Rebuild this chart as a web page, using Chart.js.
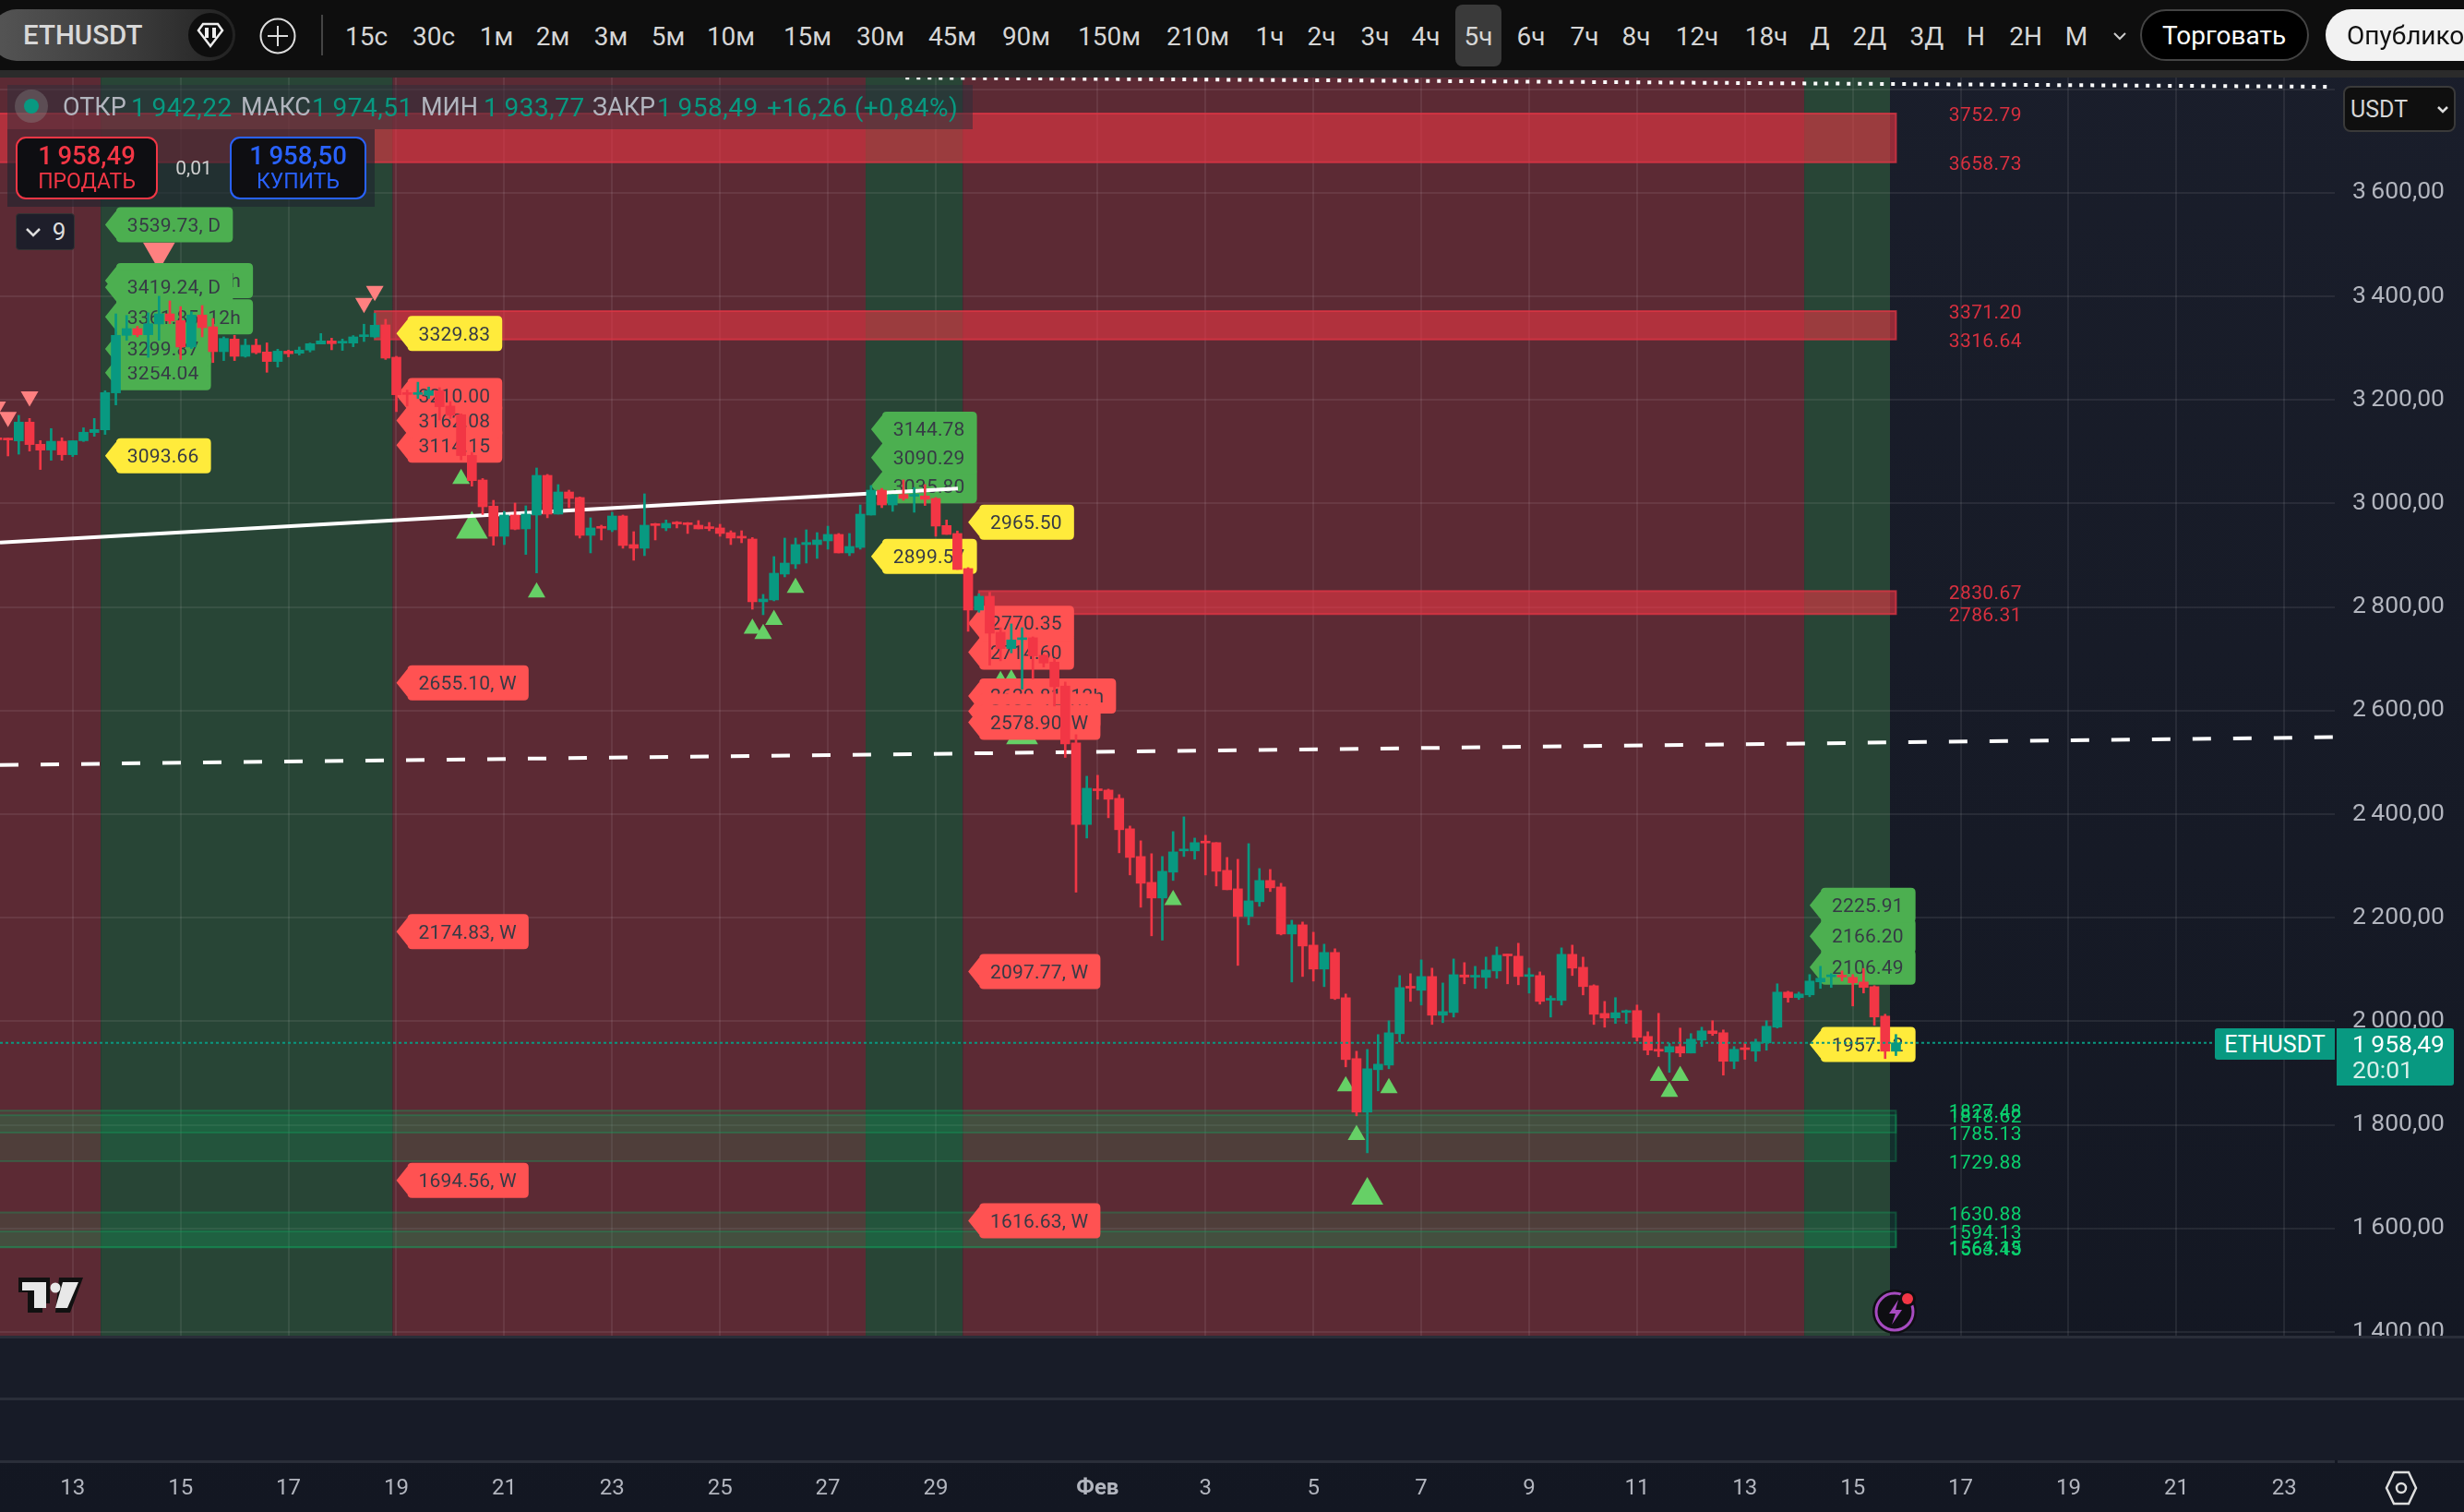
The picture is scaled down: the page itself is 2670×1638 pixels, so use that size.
<!DOCTYPE html>
<html lang="ru">
<head>
<meta charset="utf-8">
<title>ETHUSDT</title>
<script src="https://cdn.jsdelivr.net/npm/chart.js@4"></script>
<style>
  html,body{margin:0;padding:0;width:2670px;height:1638px;overflow:hidden;background:linear-gradient(#1a1e2b,#131722);font-family:Roboto,"Liberation Sans",sans-serif;}
  #chart{position:absolute;left:0;top:0;}
  .abs{position:absolute;white-space:nowrap;box-sizing:border-box;}
  .c{transform:translate(-50%,-50%);}
  .l{transform:translateY(-50%);}
</style>
</head>
<body>
<canvas id="chart" width="2670" height="1638"></canvas>
<div id="ui"></div>
<script>
// candles are 5h, 5 per day, index 0 is 13 Jan
const firstCandle = -7;
const opens = [
  3125.5,3125.5,3120.7,3157,3114.2,3103,3120,3094,3121,3136.8,
  3142,3213.4,3324.5,3337.5,3325.7,3346.5,3366,3353,3302,3363.7,
  3341,3293,3317.4,3284,3305.5,3292.4,3274,3294,3290,3296,
  3307.8,3313.8,3309.6,3309.6,3322,3321.5,3344.7,3282.3,3212.8,3210.4,
  3208.6,3217.6,3187.9,3171.2,3092.7,3045.2,2994.7,2936.5,2977.5,2950.8,
  2977.5,3054.1,2979.3,3022,3011.4,2938.3,2955,2949,2975.7,2920.5,
  2913.4,2960.3,2952.6,2963.8,2962,2957.9,2955,2952.6,2943.6,2936.5,
  2931.2,2810,2813.6,2863.5,2883,2920.5,2920.5,2927.6,2940.1,2904.4,
  2915,2977.5,3025.6,2997,3017.3,3013.8,3014.4,3009.6,2957.3,2941.9,
  2874.2,2794,2820.7,2751.2,2719.8,2737,2740.5,2706.7,2693.6,2647.3,
  2537.4,2380,2448.9,2446.5,2430.5,2371.7,2318.2,2268.3,2238,2287.9,
  2329,2329,2346.7,2345,2291.5,2255.8,2202.4,2230.9,2271.9,2259.4,
  2168.5,2186.3,2147.1,2100.8,2132.9,2045.5,1928,1824.6,1906.5,1915.4,
  1976,2067,2059.8,2086.5,2011.7,2017,2089.5,2085.3,2084.7,2097.2,
  2129.3,2125.7,2086.5,2088.3,2040.8,2040.2,2129.3,2104.3,2068.7,2015.2,
  2006.5,2017,2020.7,1970.8,1945.9,1940.5,1951.2,1938.7,1963.7,1981.5,
  1977.9,1922.7,1947.6,1942.3,1958.3,1988.6,2056.3,2045.7,2051,2076,
  2086,2088.4,2084.9,2075.9,2067,2010,1942.22];
const highs = [
  3126,3126,3170,3164,3121.3,3144.5,3126.7,3121,3146,3164,
  3217.6,3366,3363,3342,3368,3400,3391,3380,3370,3382,
  3357,3321.5,3324.5,3317.4,3317.4,3310,3297.7,3296,3302,3309.6,
  3328,3319,3317.4,3324,3346,3367,3355.4,3284,3218.7,3234,
  3224.7,3223.5,3196.8,3173,3098.7,3048,3006,2984.6,3000.7,2995.3,
  3068.4,3056,3036.3,3025.6,3012.5,2972.2,2957.9,2982.8,2977.5,2945.4,
  3018.5,2961.5,2968,2965,2963.2,2966.8,2963.2,2959.7,2947.2,2947.2,
  2934,2824.3,2897.3,2933,2933,2949,2943.6,2956,2941.9,2941.9,
  2997,3034.5,3029,3016.7,3045.3,3030.4,3036.3,3011.4,2968,2946.7,
  2876,2825.5,2828.4,2760,2767.3,2760,2742.3,2708,2700.7,2655,
  2553.4,2473.2,2475,2448.3,2437.6,2377,2348.5,2323.6,2318.2,2366.3,
  2394.8,2353.8,2359.2,2345,2316.4,2312.8,2343.1,2295,2293.2,2266.5,
  2195.2,2191.7,2172,2148.9,2140,2052.7,1942.2,1945.7,1974.3,2001,
  2088.3,2091.9,2118.6,2102.6,2074,2120.4,2113.3,2106.1,2124,2143.5,
  2129.3,2150.7,2102.6,2095.4,2049.1,2141.8,2147.1,2123.9,2070.5,2038.4,
  2045.7,2021.9,2031.4,1979.7,2015.4,1957.2,1986.9,1976.2,1988.6,2001.1,
  1983.3,1951.2,1958.3,1965.5,2001.1,2072.4,2058.1,2056.3,2090.2,2106.2,
  2092,2097.3,2090.2,2102,2068.8,2013.6,1974.51];
const lows = [
  3105,3091.6,3095,3101,3065.5,3083.3,3083.3,3090.4,3119.5,3129.6,
  3133.2,3190.2,3315,3321.5,3282,3315,3347,3278,3299,3321.5,
  3272,3275.8,3275.8,3282.3,3288.8,3253.2,3263.3,3283,3286.5,3292.4,
  3307.8,3296.6,3295.4,3302.5,3312.6,3319.7,3278,3177.2,3187.9,3202.7,
  3202.7,3161.1,3164,3084,3033.3,2978.7,2919.3,2920.5,2949,2901.5,
  2865.8,2972.2,2979.3,2991.8,2933,2904.4,2929.4,2945.4,2913.4,2890.2,
  2899.1,2929.4,2947.2,2952.6,2941.9,2950.8,2947.2,2936.5,2920.5,2924,
  2795.7,2785,2811.8,2858.1,2874.2,2884.8,2893.8,2911.6,2904.4,2899.1,
  2911.6,2977.5,2991.8,2984.7,3006,2982.9,2996,2936.6,2940.1,2872.4,
  2753,2789.8,2687.7,2696,2711.4,2641.3,2661,2684.1,2608.7,2509.5,
  2249.3,2353.8,2428.7,2393,2325.3,2282.6,2220.2,2165,2156.6,2271.9,
  2318.2,2312.9,2282.5,2261.2,2254,2107.9,2186.3,2222,2250.5,2166.7,
  2075.8,2086.5,2077.6,2066.9,2042,1911.9,1817.4,1746,1865.6,1908.3,
  1960,2038.4,2031.3,1993.9,1997.4,2008.1,2072.3,2063.4,2063.4,2083,
  2072.3,2070.5,2054.4,2033.1,2008.1,2031.3,2088.3,2050.9,1993.9,1988.5,
  1995.8,1995.8,1961.9,1935.2,1931.6,1901.3,1931.6,1938.7,1951.2,1972.6,
  1896,1908.4,1926.3,1922.7,1944.1,1986.9,2036.8,2042.1,2047.4,2063.5,
  2065.3,2077.7,2029.6,2054.6,1992.2,1928,1933.77];
const closes = [
  3123,3122.5,3157,3113.6,3102.9,3120,3094,3121,3137.4,3142.7,
  3214,3324.5,3337.5,3325.7,3347,3366,3352.4,3302,3363.7,3339.3,
  3293,3318.5,3284,3305.5,3291,3274,3294,3289,3296,3308.4,
  3313.8,3308.4,3312.6,3321.5,3325,3344,3280.5,3209.8,3210.4,3212.8,
  3217.6,3186.7,3170,3092.3,3044,2993.5,2936.5,2977.5,2950.2,2979.3,
  3054.1,2979.3,3022,3009.6,2938.3,2952.6,2952,2975.7,2918.7,2913.4,
  2957.9,2957.3,2961.5,2960.3,2959,2950.8,2951.4,2941.9,2933,2933,
  2810,2815.3,2865.2,2884.8,2920.5,2924.6,2929.4,2940.1,2904.4,2916.9,
  2979.3,3025.6,2997,3016.7,3009.6,3016.7,3007.8,2956.2,2940.1,2872.4,
  2794,2820.7,2749.4,2719.8,2736.4,2740,2705.5,2691.8,2646,2535.6,
  2380,2450,2445.3,2428.7,2369.9,2316.4,2266.5,2238,2289.7,2327.1,
  2331.3,2345,2344.3,2289.7,2254,2202.4,2232.6,2271.9,2257.6,2168.5,
  2186.3,2145.3,2100.8,2132.9,2043.8,1926.1,1824.6,1908.3,1917.2,1977.8,
  2065.1,2064,2086.5,2011.7,2018.8,2090,2085.3,2087.7,2099,2127.5,
  2126.3,2086.5,2090,2038.4,2043.8,2129.3,2102.6,2067,2013.5,2006.3,
  2016.6,2020,1969,1944.1,1942.3,1951.2,1938.7,1965.5,1981.5,1976.2,
  1922.7,1945.9,1945.3,1960.1,1990.4,2056.3,2045.7,2052.8,2077.7,2083.1,
  2089,2085.5,2074.2,2065.3,2008.2,1942.2,1958.49];

const xTickIndex = [0,10,20,30,40,50,60,70,80,95,105,115,125,135,145,155,165,175,185,195,205];
const xTickLabels = ['13','15','17','19','21','23','25','27','29','Фев','3','5','7','9','11','13','15','17','19','21','23'];
const priceTicks = [1400,1600,1800,2000,2200,2400,2600,2800,3000,3200,3400,3600,3800];
const priceLabels = ['1\u2009400,00','1\u2009600,00','1\u2009800,00','2\u2009000,00','2\u2009200,00','2\u2009400,00','2\u2009600,00','2\u2009800,00','3\u2009000,00','3\u2009200,00','3\u2009400,00','3\u2009600,00',''];

// session bands, in candle index
const bandEdges = [-8,2.6,29.65,73.5,82.5,160.5,168.45];
const bandKinds = ['red','green','red','green','red','green'];

// supply / demand boxes
const zoneStart = [-8,28,84,-8,-8,-8,-8];
const zoneTop = [3752.79,3371.20,2830.67,1827.48,1818.62,1630.88,1594.13];
const zoneBottom = [3658.73,3316.64,2786.31,1729.88,1785.13,1563.43,1564.15];
const zoneKind = ['red','red','red','green','green','green','green'];
const zoneEnd = 169;

const levelIndex = 173.9;
const levelPrices = [3752.79,3658.73,3371.20,3316.64,2830.67,2786.31,1827.48,1818.62,1785.13,1729.88,1630.88,1594.13,1564.15,1563.43];
const levelTexts = ['3752.79','3658.73','3371.20','3316.64','2830.67','2786.31','1827.48','1818.62','1785.13','1729.88','1630.88','1594.13','1564.15','1563.43'];

// flags, drawn in this order
const flagIndex = [3,3,3,3,3,3,3, 30,30,30,30,30,30,30, 74,74,74,74, 83,83,83,83,83,83,83,83, 161,161,161,161];
const flagPrice = [3539.73,3432.15,3361.85,3419.24,3254.04,3299.87,3093.66,
  3329.83,3114.15,3162.08,3210.00,2655.10,2174.83,1694.56,
  3035.80,3090.29,3144.78,2899.57,
  2965.50,2714.60,2770.35,2629.81,2600.45,2578.90,2097.77,1616.63,
  2106.49,2166.20,2225.91,1957.12];
const flagText = ['3539.73, D','3432.15, 12h','3361.85, 12h','3419.24, D','3254.04','3299.87','3093.66',
  '3329.83','3114.15','3162.08','3210.00','2655.10, W','2174.83, W','1694.56, W',
  '3035.80','3090.29','3144.78','2899.57',
  '2965.50','2714.60','2770.35','2629.81, 12h','2600.45, W','2578.90, W','2097.77, W','1616.63, W',
  '2106.49','2166.20','2225.91','1957.12'];
const flagKind = ['g','g','g','g','g','g','y', 'y','r','r','r','r','r','r', 'g','g','g','y', 'y','r','r','r','r','r','r','r', 'g','g','g','y'];

// triangle markers
const markIndex = [36,37,43,63,64,65,67,86,87,88,102,118,119,120,122,147,148,149, -7,-6,-4,8,27,28];
const markPrice = [3047.6,2950,2828,2758,2748,2775,2837,2657,2660,2553,2234,1874.5,1780.6,1664,1871,1894.6,1864,1894.6, 3187,3167,3206.5,3486,3387,3410];
const markBig = [0,1,0,0,0,0,0,0,0,1,0,0,0,1,0,0,0,0, 0,0,0,1,0,0];
const markDown = [0,0,0,0,0,0,0,0,0,0,0,0,0,0,0,0,0,0, 1,1,1,1,1,1];

// drawn lines
const solidIndex = [-6.74,82.05];
const solidPrice = [2924.6,3028.7];
const dashedIndex = [-6.74,209.6];
const dashedPrice = [2495,2548.6];
const dottedIndex = [77.2,209.6];
const dottedPrice = [3822,3804.4];
const lastPrice = 1958.49;

const UP = '#089981', DOWN = '#F23645';
const candleIdx = closes.map((_, i) => firstCandle + i);
const candleColor = closes.map((c, i) => c >= opens[i] ? UP : DOWN);

const flagFill = {g:'#4caf50', y:'#ffeb3b', r:'#ff5252'};
function drawFlag(ctx, x, y, text, fill) {
  const w = ctx.measureText(text).width + 25, h = 38, t = 12, r = 5;
  const b = x + t;
  ctx.fillStyle = fill;
  ctx.beginPath();
  ctx.moveTo(x, y);
  ctx.lineTo(b, y - 15);
  ctx.lineTo(b, y - h/2 + r);
  ctx.quadraticCurveTo(b, y - h/2, b + r, y - h/2);
  ctx.lineTo(b + w - r, y - h/2);
  ctx.quadraticCurveTo(b + w, y - h/2, b + w, y - h/2 + r);
  ctx.lineTo(b + w, y + h/2 - r);
  ctx.quadraticCurveTo(b + w, y + h/2, b + w - r, y + h/2);
  ctx.lineTo(b + r, y + h/2);
  ctx.quadraticCurveTo(b, y + h/2, b, y + h/2 - r);
  ctx.lineTo(b, y + 15);
  ctx.closePath();
  ctx.fill();
  ctx.fillStyle = '#363a45';
  ctx.fillText(text, b + 12, y + 2);
}

const panelPlugin = {
  id: 'panel',
  beforeDraw(chart) {
    const {ctx, chartArea: a, scales: {x}} = chart;
    ctx.save();
    bandKinds.forEach((k, i) => {
      const x0 = Math.max(a.left, x.getPixelForValue(bandEdges[i]));
      const x1 = x.getPixelForValue(bandEdges[i + 1]);
      ctx.fillStyle = k === 'red' ? '#5c2a34' : '#284536';
      ctx.fillRect(x0, a.top, x1 - x0, a.bottom - a.top);
    });
    ctx.restore();
  },
  beforeDatasetsDraw(chart) {
    const {ctx, chartArea: a, scales: {x, y}} = chart;
    ctx.save();
    ctx.beginPath();
    ctx.rect(a.left, a.top, a.right - a.left, a.bottom - a.top);
    ctx.clip();
    zoneTop.forEach((top, i) => {
      const red = zoneKind[i] === 'red';
      const x0 = x.getPixelForValue(zoneStart[i]), x1 = x.getPixelForValue(zoneEnd);
      const y0 = y.getPixelForValue(top), y1 = y.getPixelForValue(zoneBottom[i]);
      ctx.fillStyle = red ? 'rgba(242,54,69,0.57)' : 'rgba(14,170,95,0.16)';
      ctx.strokeStyle = red ? 'rgba(226,54,69,0.75)' : 'rgba(14,170,95,0.32)';
      ctx.lineWidth = 2;
      ctx.fillRect(x0, y0, x1 - x0, y1 - y0);
      ctx.strokeRect(x0, y0, x1 - x0, y1 - y0);
    });
    ctx.restore();
  },
  afterDatasetDraw(chart, args) {
    if (chart.data.datasets[args.index].label !== 'marks') return;
    const {ctx, scales: {x, y}} = chart;
    ctx.save();
    ctx.font = '21px Roboto, "Liberation Sans", sans-serif';
    ctx.letterSpacing = '0.2px';
    ctx.textBaseline = 'middle';
    ctx.textAlign = 'left';
    flagText.forEach((t, i) => drawFlag(ctx, x.getPixelForValue(flagIndex[i]), y.getPixelForValue(flagPrice[i]) + 1, t, flagFill[flagKind[i]]));
    ctx.letterSpacing = '0.4px';
    levelTexts.forEach((t, i) => {
      ctx.fillStyle = i < 6 ? '#d8303f' : '#0ad06e';
      ctx.fillText(t, x.getPixelForValue(levelIndex), y.getPixelForValue(levelPrices[i]) + 3);
    });
    ctx.restore();
  }
};

new Chart(document.getElementById('chart'), {
  type: 'bar',
  plugins: [panelPlugin],
  data: {
    datasets: [
      {
        type: 'line', label: 'marks', order: 6, showLine: false,
        data: markIndex.map((v, i) => ({x: v, y: markPrice[i]})),
        pointStyle: 'triangle',
        pointRadius: markBig.map(b => b ? 20 : 11),
        pointRotation: markDown.map(d => d ? 180 : 0),
        pointBackgroundColor: markDown.map(d => d ? '#ff8080' : '#66d066'),
        pointBorderWidth: 0
      },
      {type: 'line', label: 'trend', order: 4, data: solidIndex.map((v, i) => ({x: v, y: solidPrice[i]})), borderColor: '#ffffff', borderWidth: 4, pointRadius: 0},
      {type: 'line', label: 'trend dashed', order: 4, data: dashedIndex.map((v, i) => ({x: v, y: dashedPrice[i]})), borderColor: '#ffffff', borderWidth: 4, borderDash: [20, 24], pointRadius: 0},
      {type: 'line', label: 'trend dotted', order: 4, data: dottedIndex.map((v, i) => ({x: v, y: dottedPrice[i]})), borderColor: '#ffffff', borderWidth: 4, borderDash: [4, 8], pointRadius: 0},
      {
        label: 'wicks', order: 3, grouped: false, barThickness: 2,
        data: candleIdx.map((v, i) => ({x: v, y: [lows[i], highs[i]]})),
        backgroundColor: candleColor
      },
      {
        label: 'bodies', order: 2, grouped: false, barThickness: 10, minBarLength: 2,
        data: candleIdx.map((v, i) => ({x: v, y: [opens[i], closes[i]]})),
        backgroundColor: candleColor
      },
      {type: 'line', label: 'last', order: 1, data: [{x: -6.74, y: lastPrice}, {x: 209.6, y: lastPrice}], borderColor: UP, borderWidth: 2, borderDash: [3, 3], pointRadius: 0}
    ]
  },
  options: {
    responsive: false,
    devicePixelRatio: 1,
    animation: false,
    events: [],
    layout: {autoPadding: false, padding: {top: 84}},
    plugins: {legend: {display: false}, tooltip: {enabled: false}},
    scales: {
      x: {
        type: 'linear',
        min: -6.74, max: 209.68, offset: false,
        afterBuildTicks: s => { s.ticks = xTickIndex.map(v => ({value: v})); },
        afterFit: s => { s.height = 191; s.paddingLeft = 0; s.paddingRight = 0; },
        grid: {color: 'rgba(255,255,255,0.075)', lineWidth: 2, drawTicks: false, offset: false},
        border: {display: false},
        ticks: {
          autoSkip: false, maxRotation: 0, padding: 152, color: '#b2b5be',
          font: c => ({family: 'Roboto', size: 24, weight: c.tick && c.tick.value === 95 ? 'bold' : 'normal'}),
          callback: v => xTickLabels[xTickIndex.indexOf(v)]
        }
      },
      y: {
        type: 'linear', position: 'right',
        min: 1392.9, max: 3822.3,
        afterBuildTicks: s => { s.ticks = priceTicks.map(v => ({value: v})); },
        afterFit: s => { s.width = 140; s.paddingTop = 0; s.paddingBottom = 0; },
        grid: {color: 'rgba(255,255,255,0.075)', lineWidth: 2, drawTicks: false},
        border: {display: false},
        ticks: {
          padding: 19, color: '#b2b5be', font: {family: 'Roboto', size: 26.5},
          callback: v => priceLabels[priceTicks.indexOf(v)]
        }
      }
    }
  }
});

// ---- terminal chrome around the chart
const ui = document.getElementById('ui');
function box(x, y, w, h, css) {
  const d = document.createElement('div');
  d.className = 'abs';
  d.style.cssText = `left:${x}px;top:${y}px;width:${w}px;height:${h}px;${css||''}`;
  ui.appendChild(d);
  return d;
}
function text(t, x, y, css, cls) {
  const d = document.createElement('div');
  d.className = 'abs ' + (cls || 'c');
  d.textContent = t;
  d.style.cssText = `left:${x}px;top:${y}px;${css||''}`;
  ui.appendChild(d);
  return d;
}

// toolbar
box(0, 0, 2670, 76, 'background:#0e0e0e');
box(0, 76, 2670, 8, 'background:#2b2b2b');
box(-10, 10, 265, 56, 'border-radius:28px;background:linear-gradient(90deg,#555,#3a3a3a 60%,#222)');
text('ETHUSDT', 25, 38, 'font-size:29.5px;font-weight:500;color:#d8d8d8', 'l');
box(204, 14, 48, 48, 'border-radius:50%;background:#0e0e0e');
box(0, 0, 2670, 76).innerHTML = `<svg width="2670" height="76" style="position:absolute;left:0;top:0">
  <path d="M215 33l5-7h16l5 7-13 17z" fill="none" stroke="#eee" stroke-width="2.5"/>
  <path d="M224 30v11M232 30v11" stroke="#eee" stroke-width="4"/>
  <circle cx="301" cy="39" r="18.5" fill="none" stroke="#ddd" stroke-width="2"/>
  <path d="M301 28v22M290 39h22" stroke="#ddd" stroke-width="2"/>
  <path d="M349 16v44" stroke="#444" stroke-width="2"/>
  <path d="M2291 36l6 6 6-6" fill="none" stroke="#ccc" stroke-width="2"/></svg>`;
box(1577, 5, 50, 67, 'background:#3a3a3a;border-radius:8px');
const intervalLabels = ['15с','30с','1м','2м','3м','5м','10м','15м','30м','45м','90м','150м','210м','1ч','2ч','3ч','4ч','5ч','6ч','7ч','8ч','12ч','18ч','Д','2Д','3Д','Н','2Н','М'];
const intervalCenters = [397,470,538,599,662,724,792,875,954,1032,1112,1202,1298,1376,1432,1490,1545,1602,1659,1717,1773,1839,1914,1972,2026,2088,2141,2195,2250];
intervalLabels.forEach((t, i) => text(t, intervalCenters[i], 39, 'font-size:28px;color:#d6d6d6'));
box(2319, 10, 183, 56, 'background:#000;border:2px solid #444;border-radius:28px');
text('Торговать', 2410, 38, 'font-size:28px;color:#fff');
box(2520, 10, 190, 56, 'background:#f2f2f2;border-radius:28px 0 0 28px');
text('Опубликовать', 2543, 38, 'font-size:28px;color:#111', 'l');

// legend
box(8, 92, 1046, 48, 'background:rgba(42,46,57,0.5)');
box(8, 140, 398, 84, 'background:rgba(30,36,46,0.62)');
box(16, 97, 36, 36, 'border-radius:50%;background:rgba(140,140,140,0.35)');
box(26, 107, 16, 16, 'border-radius:50%;background:#089981');
const legendTexts = ['ОТКР','1\u2009942,22','МАКС','1\u2009974,51','МИН','1\u2009933,77','ЗАКР','1\u2009958,49','+16,26 (+0,84%)'];
const legendLefts = [68,142,261,338,456,524,642,712,831];
legendTexts.forEach((t, i) => {
  const label = i % 2 === 0 && i < 8;
  text(t, legendLefts[i], 116, label ? 'font-size:27px;color:#b2b5be' : 'font-size:28px;letter-spacing:.5px;color:#089981', 'l');
});
box(17, 148, 154, 68, 'background:#0e0e12;border:2.5px solid #f23645;border-radius:11px');
text('1\u2009958,49', 94, 168, 'font-size:27.5px;font-weight:500;color:#f23645');
text('ПРОДАТЬ', 94, 196, 'font-size:23px;color:#f23645');
text('0,01', 210, 182, 'font-size:21px;color:#d0d0d0');
box(249, 148, 148, 68, 'background:#0e0e12;border:2.5px solid #2962ff;border-radius:11px');
text('1\u2009958,50', 323, 168, 'font-size:27.5px;font-weight:500;color:#2962ff');
text('КУПИТЬ', 323, 196, 'font-size:23px;color:#2962ff');
box(17, 231, 64, 40, 'background:#1e1e2a;border:1px solid #333;border-radius:4px').innerHTML =
  '<svg width="24" height="38" style="position:absolute;left:8px;top:0"><path d="M3 16l7 7 7-7" fill="none" stroke="#ddd" stroke-width="2.5"/></svg>';
text('9', 64, 251, 'font-size:26px;color:#ddd');

// USDT selector and price tags
box(2539, 93, 122, 50, 'background:#0f0f0f;border:2px solid #3a3a3a;border-radius:8px');
text('USDT', 2547, 118, 'font-size:25px;color:#d6d6d6', 'l');
box(2630, 100, 30, 36).innerHTML = '<svg width="30" height="36"><path d="M12 16l5 5 5-5" fill="none" stroke="#ddd" stroke-width="2.5"/></svg>';
box(2400, 1114, 130, 34, `background:${UP};border-radius:3px 0 0 3px`);
text('ETHUSDT', 2465, 1131, 'font-size:25px;color:#fff');
box(2532, 1114, 127, 62, `background:${UP};border-radius:0 3px 3px 0`);
text('1\u2009958,49', 2549, 1130, 'font-size:26.5px;color:#fff', 'l');
text('20:01', 2549, 1158, 'font-size:26.5px;color:#d9efe9', 'l');

// strips under the price pane
box(0, 1447, 2670, 3, 'background:#2a2e39');
box(0, 1450, 2670, 64, 'background:#181c28');
box(0, 1514, 2670, 3, 'background:#2a2e39');
box(0, 1517, 2670, 65, 'background:#171b27');
box(0, 1582, 2530, 3, 'background:#2a2e39');
box(2533, 1582, 137, 3, 'background:#2a2e39');

// logo and small icons
box(20, 1384, 70, 38).innerHTML = `<svg width="70" height="38">
  <path d="M0 0h34v28h-8v10h-16v-22h-10z" fill="#111"/><path d="M44 0h26l-14 38h-16z" fill="#111"/>
  <path d="M4 5h26v28h-13v-19h-13z" fill="#e8e8e8"/><circle cx="40" cy="11" r="5.5" fill="#e8e8e8"/><path d="M48 5h17l-12 28h-13z" fill="#e8e8e8"/></svg>`;
box(2026, 1394, 56, 54).innerHTML = `<svg width="56" height="54">
  <circle cx="27" cy="27" r="24" fill="#0e0e12"/><circle cx="27" cy="27" r="20" fill="none" stroke="#a64bc0" stroke-width="3"/>
  <path d="M31 14l-10 15h7l-4 12 11-16h-7z" fill="#a64bc0"/><circle cx="41" cy="13" r="9" fill="#0e0e12"/><circle cx="41" cy="13" r="6" fill="#f23645"/></svg>`;
box(2584, 1592, 36, 40).innerHTML = `<svg width="36" height="40">
  <path d="M10 3h16l8 17-8 17h-16l-8-17z" fill="none" stroke="#ddd" stroke-width="2.5"/><circle cx="18" cy="20" r="5" fill="none" stroke="#ddd" stroke-width="2.5"/></svg>`;
</script>
</body>
</html>
